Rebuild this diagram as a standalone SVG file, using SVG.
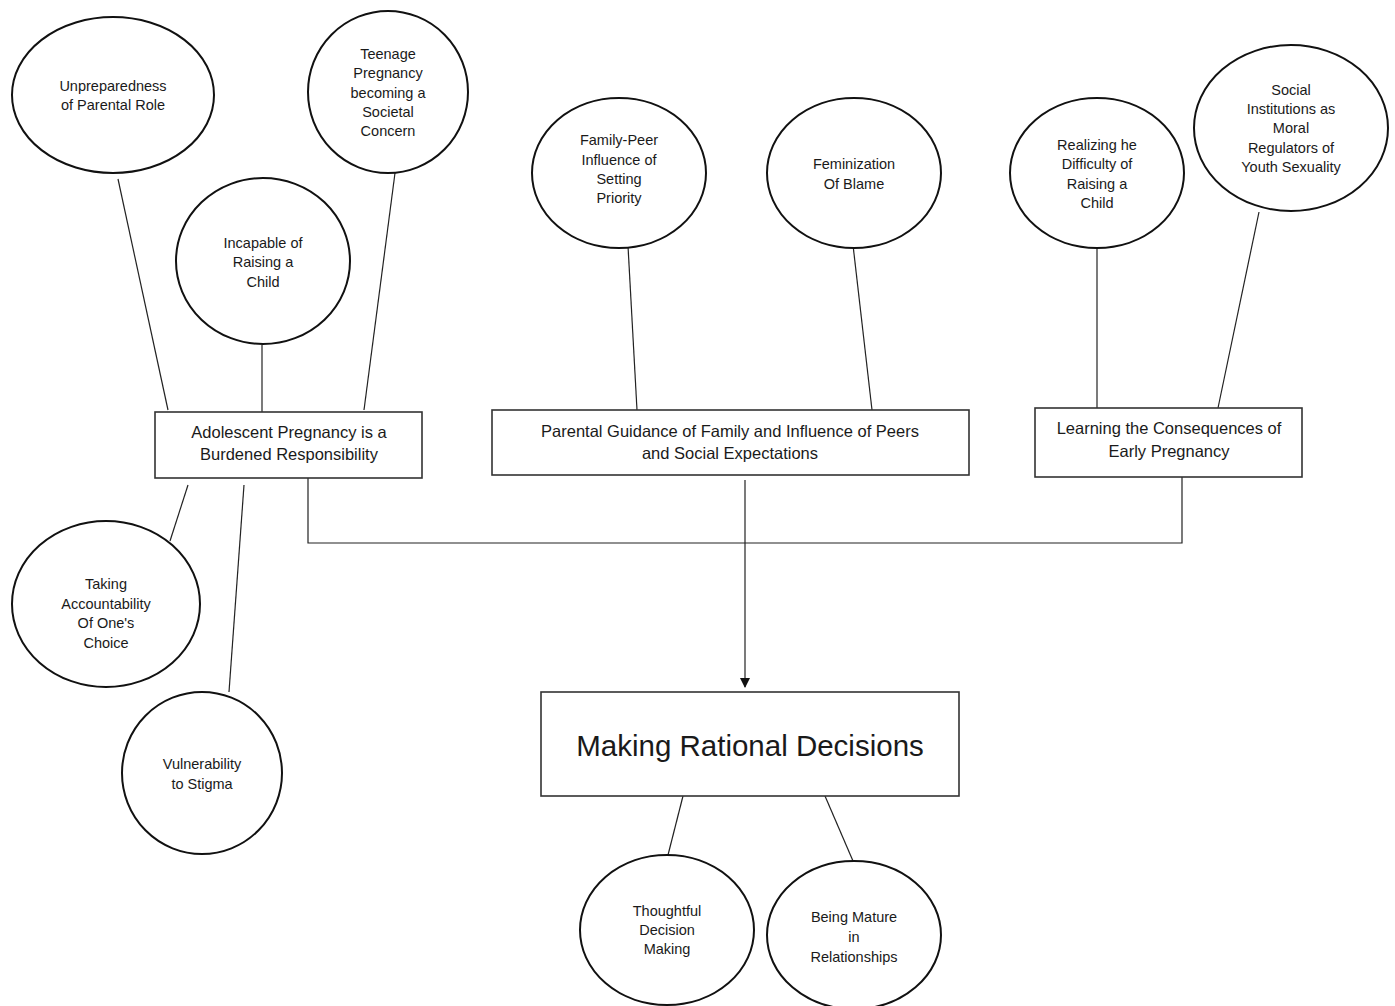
<svg xmlns="http://www.w3.org/2000/svg" width="1395" height="1006" viewBox="0 0 1395 1006">
<style>
.e{fill:#fff;stroke:#111;stroke-width:2}
.b{fill:#fff;stroke:#333;stroke-width:1.6}
.c{fill:none;stroke:#222;stroke-width:1.2}
text{font-family:"Liberation Sans",Arial,sans-serif;fill:#1a1a1a;text-anchor:middle}
.t{font-size:14.5px}
.bt{font-size:16.5px}
.big{font-size:29.5px}
</style>
<defs>
<marker id="arr" markerWidth="10" markerHeight="10" refX="9" refY="5" orient="auto" markerUnits="userSpaceOnUse">
<path d="M0,0 L10,5 L0,10 z" fill="#111"/>
</marker>
</defs>
<rect width="1395" height="1006" fill="#fff"/>
<g id="connectors">
<line class="c" x1="118" y1="179" x2="168" y2="410"/>
<line class="c" x1="262" y1="345" x2="262" y2="412"/>
<line class="c" x1="395" y1="173" x2="364" y2="410"/>
<line class="c" x1="628" y1="246" x2="637" y2="410"/>
<line class="c" x1="853" y1="245" x2="872" y2="410"/>
<line class="c" x1="1097" y1="248" x2="1097" y2="408"/>
<line class="c" x1="1259" y1="212" x2="1218" y2="408"/>
<line class="c" x1="188" y1="485" x2="170" y2="541"/>
<line class="c" x1="244" y1="485" x2="229" y2="692"/>
<polyline class="c" points="308,478 308,543 1182,543 1182,477"/>
<line class="c" x1="745" y1="480" x2="745" y2="687" marker-end="url(#arr)"/>
<line class="c" x1="683" y1="796" x2="668" y2="855"/>
<line class="c" x1="825" y1="796" x2="853" y2="861"/>
</g>
<g id="n-unpreparedness"><ellipse class="e" cx="113" cy="95" rx="101" ry="78"/><text class="t" x="113" y="91">Unpreparedness</text><text class="t" x="113" y="110">of Parental Role</text></g>
<g id="n-teenage"><ellipse class="e" cx="388" cy="92" rx="80" ry="81"/><text class="t" x="388" y="59">Teenage</text><text class="t" x="388" y="78">Pregnancy</text><text class="t" x="388" y="98">becoming a</text><text class="t" x="388" y="117">Societal</text><text class="t" x="388" y="136">Concern</text></g>
<g id="n-incapable"><ellipse class="e" cx="263" cy="261" rx="87" ry="83"/><text class="t" x="263" y="248">Incapable of</text><text class="t" x="263" y="267">Raising a</text><text class="t" x="263" y="287">Child</text></g>
<g id="n-familypeer"><ellipse class="e" cx="619" cy="173" rx="87" ry="75"/><text class="t" x="619" y="145">Family-Peer</text><text class="t" x="619" y="165">Influence of</text><text class="t" x="619" y="184">Setting</text><text class="t" x="619" y="203">Priority</text></g>
<g id="n-feminization"><ellipse class="e" cx="854" cy="173" rx="87" ry="75"/><text class="t" x="854" y="169">Feminization</text><text class="t" x="854" y="189">Of Blame</text></g>
<g id="n-realizing"><ellipse class="e" cx="1097" cy="173" rx="87" ry="75"/><text class="t" x="1097" y="150">Realizing he</text><text class="t" x="1097" y="169">Difficulty of</text><text class="t" x="1097" y="189">Raising a</text><text class="t" x="1097" y="208">Child</text></g>
<g id="n-social"><ellipse class="e" cx="1291" cy="128" rx="97" ry="83"/><text class="t" x="1291" y="95">Social</text><text class="t" x="1291" y="114">Institutions as</text><text class="t" x="1291" y="133">Moral</text><text class="t" x="1291" y="153">Regulators of</text><text class="t" x="1291" y="172">Youth Sexuality</text></g>
<g id="n-adolescent"><rect class="b" x="155" y="412" width="267" height="66"/><text class="bt" x="289" y="438">Adolescent Pregnancy is a</text><text class="bt" x="289" y="460">Burdened Responsibility</text></g>
<g id="n-parental"><rect class="b" x="492" y="410" width="477" height="65"/><text class="bt" x="730" y="437">Parental Guidance of Family and Influence of Peers</text><text class="bt" x="730" y="459">and Social Expectations</text></g>
<g id="n-learning"><rect class="b" x="1035" y="408" width="267" height="69"/><text class="bt" x="1169" y="434">Learning the Consequences of</text><text class="bt" x="1169" y="457">Early Pregnancy</text></g>
<g id="n-taking"><ellipse class="e" cx="106" cy="604" rx="94" ry="83"/><text class="t" x="106" y="589">Taking</text><text class="t" x="106" y="609">Accountability</text><text class="t" x="106" y="628">Of One's</text><text class="t" x="106" y="648">Choice</text></g>
<g id="n-vulnerability"><ellipse class="e" cx="202" cy="773" rx="80" ry="81"/><text class="t" x="202" y="769">Vulnerability</text><text class="t" x="202" y="789">to Stigma</text></g>
<g id="n-making"><rect class="b" x="541" y="692" width="418" height="104"/><text class="big" x="750" y="756">Making Rational Decisions</text></g>
<g id="n-thoughtful"><ellipse class="e" cx="667" cy="930" rx="87" ry="75"/><text class="t" x="667" y="916">Thoughtful</text><text class="t" x="667" y="935">Decision</text><text class="t" x="667" y="954">Making</text></g>
<g id="n-mature"><ellipse class="e" cx="854" cy="935" rx="87" ry="74"/><text class="t" x="854" y="922">Being Mature</text><text class="t" x="854" y="942">in</text><text class="t" x="854" y="962">Relationships</text></g>
</svg>
